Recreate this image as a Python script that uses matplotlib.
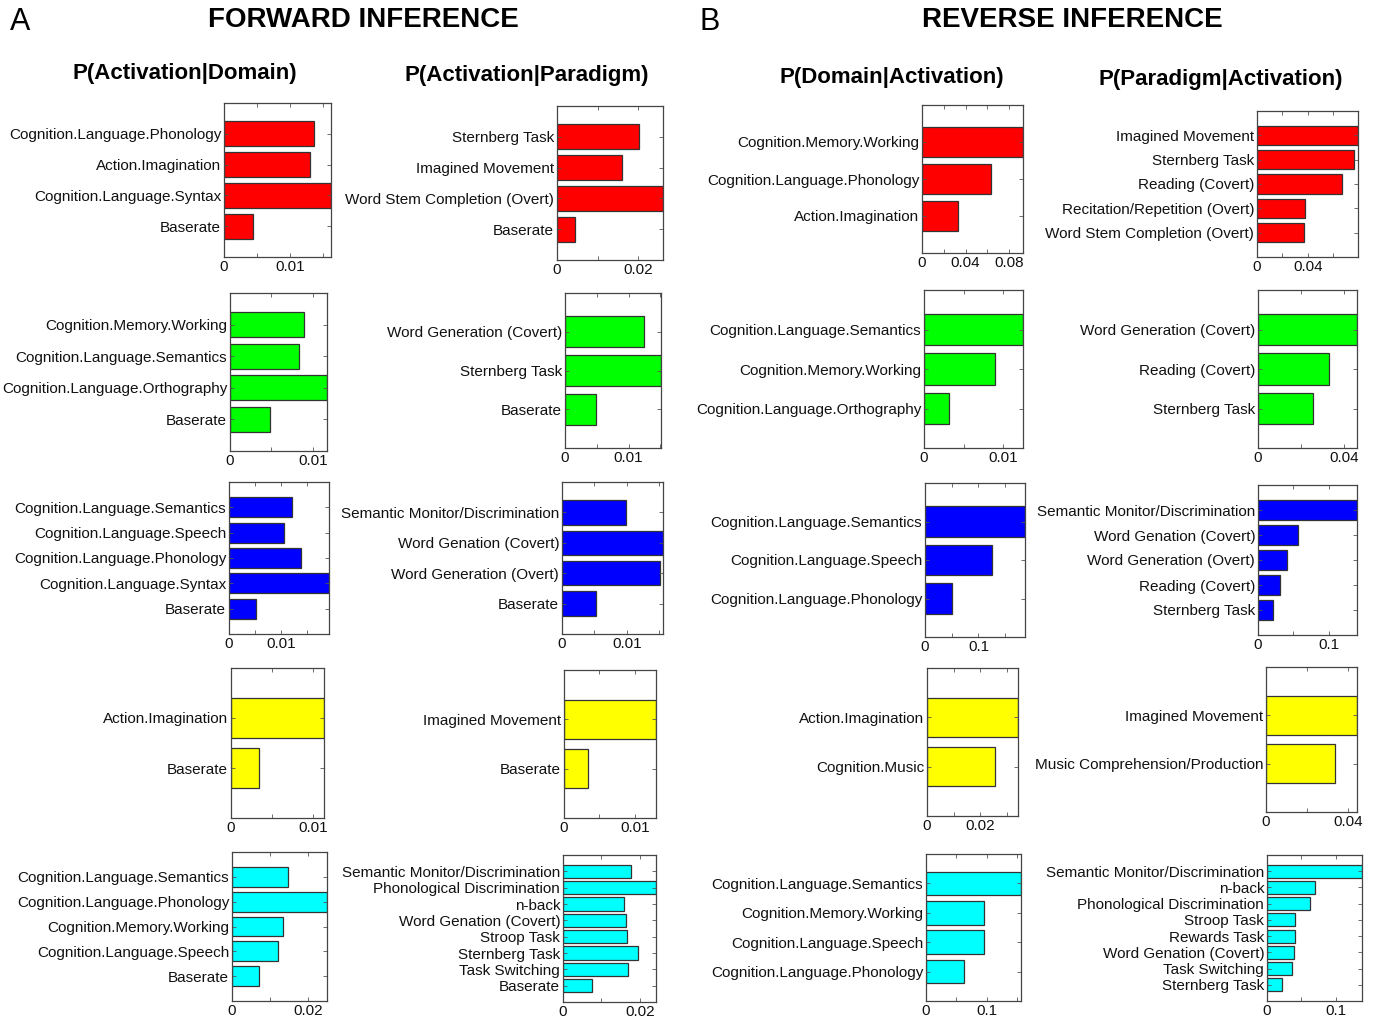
import numpy as np
import matplotlib.pyplot as plt
from matplotlib.ticker import MultipleLocator, FuncFormatter

plt.rcParams['font.family'] = ['Liberation Sans', 'DejaVu Sans']

W, H = 1376, 1019

# ---- forward inference: P(Activation|Domain)
fd1_labels = ['Cognition.Language.Phonology', 'Action.Imagination', 'Cognition.Language.Syntax', 'Baserate']
fd1_values = [0.0137, 0.0130, 0.0162, 0.0044]
fd2_labels = ['Cognition.Memory.Working', 'Cognition.Language.Semantics', 'Cognition.Language.Orthography', 'Baserate']
fd2_values = [0.0089, 0.0083, 0.0117, 0.0048]
fd3_labels = ['Cognition.Language.Semantics', 'Cognition.Language.Speech', 'Cognition.Language.Phonology',
              'Cognition.Language.Syntax', 'Baserate']
fd3_values = [0.0121, 0.0107, 0.0139, 0.0193, 0.0052]
fd4_labels = ['Action.Imagination', 'Baserate']
fd4_values = [0.0113, 0.0034]
fd5_labels = ['Cognition.Language.Semantics', 'Cognition.Language.Phonology', 'Cognition.Memory.Working',
              'Cognition.Language.Speech', 'Baserate']
fd5_values = [0.0148, 0.0250, 0.0133, 0.0120, 0.0070]

# ---- forward inference: P(Activation|Paradigm)
fp1_labels = ['Sternberg Task', 'Imagined Movement', 'Word Stem Completion (Overt)', 'Baserate']
fp1_values = [0.0202, 0.0161, 0.0261, 0.0045]
fp2_labels = ['Word Generation (Covert)', 'Sternberg Task', 'Baserate']
fp2_values = [0.0124, 0.0151, 0.0048]
fp3_labels = ['Semantic Monitor/Discrimination', 'Word Genation (Covert)', 'Word Generation (Overt)', 'Baserate']
fp3_values = [0.0099, 0.0156, 0.0152, 0.0052]
fp4_labels = ['Imagined Movement', 'Baserate']
fp4_values = [0.0130, 0.0034]
fp5_labels = ['Semantic Monitor/Discrimination', 'Phonological Discrimination', 'n-back', 'Word Genation (Covert)',
              'Stroop Task', 'Sternberg Task', 'Task Switching', 'Baserate']
fp5_values = [0.0176, 0.0242, 0.0159, 0.0163, 0.0167, 0.0194, 0.0169, 0.0075]

# ---- reverse inference: P(Domain|Activation)
rd1_labels = ['Cognition.Memory.Working', 'Cognition.Language.Phonology', 'Action.Imagination']
rd1_values = [0.0927, 0.0633, 0.0333]
rd2_labels = ['Cognition.Language.Semantics', 'Cognition.Memory.Working', 'Cognition.Language.Orthography']
rd2_values = [0.0125, 0.0090, 0.0031]
rd3_labels = ['Cognition.Language.Semantics', 'Cognition.Language.Speech', 'Cognition.Language.Phonology']
rd3_values = [0.187, 0.1245, 0.051]
rd4_labels = ['Action.Imagination', 'Cognition.Music']
rd4_values = [0.0343, 0.0257]
rd5_labels = ['Cognition.Language.Semantics', 'Cognition.Memory.Working', 'Cognition.Language.Speech',
              'Cognition.Language.Phonology']
rd5_values = [0.156, 0.0956, 0.0950, 0.0626]

# ---- reverse inference: P(Paradigm|Activation)
rp1_labels = ['Imagined Movement', 'Sternberg Task', 'Reading (Covert)', 'Recitation/Repetition (Overt)',
              'Word Stem Completion (Overt)']
rp1_values = [0.0797, 0.0764, 0.0668, 0.0379, 0.0372]
rp2_labels = ['Word Generation (Covert)', 'Reading (Covert)', 'Sternberg Task']
rp2_values = [0.0461, 0.0330, 0.0254]
rp3_labels = ['Semantic Monitor/Discrimination', 'Word Genation (Covert)', 'Word Generation (Overt)',
              'Reading (Covert)', 'Sternberg Task']
rp3_values = [0.140, 0.0567, 0.0413, 0.0309, 0.0216]
rp4_labels = ['Imagined Movement', 'Music Comprehension/Production']
rp4_values = [0.0444, 0.0337]
rp5_labels = ['Semantic Monitor/Discrimination', 'n-back', 'Phonological Discrimination', 'Stroop Task',
              'Rewards Task', 'Word Genation (Covert)', 'Task Switching', 'Sternberg Task']
rp5_values = [0.138, 0.0694, 0.0630, 0.0412, 0.0412, 0.0393, 0.0369, 0.0218]

row_colors = ['#ff0000', '#00ff00', '#0000ff', '#ffff00', '#00ffff']

# panel layout: (labels, values, row, box in pixels x0, y0, x1, y1, tick step)
panels = [
    (fd1_labels, fd1_values, 0, (224, 103, 331, 257), 0.01),
    (fp1_labels, fp1_values, 0, (557, 106, 663, 260), 0.02),
    (rd1_labels, rd1_values, 0, (922, 105, 1023, 253), 0.04),
    (rp1_labels, rp1_values, 0, (1257, 111, 1358, 257), 0.04),
    (fd2_labels, fd2_values, 1, (230, 293, 327, 451), 0.01),
    (fp2_labels, fp2_values, 1, (565, 293, 661, 448), 0.01),
    (rd2_labels, rd2_values, 1, (924, 290, 1023, 448), 0.01),
    (rp2_labels, rp2_values, 1, (1258, 290, 1357, 448), 0.04),
    (fd3_labels, fd3_values, 2, (229, 482, 329, 634), 0.01),
    (fp3_labels, fp3_values, 2, (562, 482, 663, 634), 0.01),
    (rd3_labels, rd3_values, 2, (925, 483, 1025, 637), 0.1),
    (rp3_labels, rp3_values, 2, (1258, 485, 1357, 635), 0.1),
    (fd4_labels, fd4_values, 3, (231, 668, 324, 818), 0.01),
    (fp4_labels, fp4_values, 3, (564, 670, 656, 818), 0.01),
    (rd4_labels, rd4_values, 3, (927, 668, 1018, 816), 0.02),
    (rp4_labels, rp4_values, 3, (1266, 667, 1357, 812), 0.04),
    (fd5_labels, fd5_values, 4, (232, 852, 327, 1001), 0.02),
    (fp5_labels, fp5_values, 4, (563, 855, 656, 1002), 0.02),
    (rd5_labels, rd5_values, 4, (926, 854, 1021, 1001), 0.1),
    (rp5_labels, rp5_values, 4, (1267, 855, 1362, 1001), 0.1),
]

fig = plt.figure(figsize=(W / 100, H / 100), dpi=100)

tick_fmt = FuncFormatter(lambda v, p: f'{round(v, 6):g}')

for labels, values, row, box, step in panels:
    x0, y0, x1, y1 = box
    ax = fig.add_axes([x0 / W, 1 - y1 / H, (x1 - x0) / W, (y1 - y0) / H])
    pos = np.arange(1, len(values) + 1)
    ax.barh(pos, values, height=0.8, color=row_colors[row], edgecolor='#333333', linewidth=0.9)
    ax.set_ylim(len(values) + 1, 0)
    ax.set_xlim(0, max(values))
    ax.set_yticks(pos)
    ax.set_yticklabels(labels)
    ax.xaxis.set_major_locator(MultipleLocator(step))
    ax.xaxis.set_minor_locator(MultipleLocator(step / 2))
    ax.xaxis.set_major_formatter(tick_fmt)
    ax.tick_params(which='both', direction='in', top=True, right=True, length=3,
                   width=0.6, color='#555555', labelsize=11, pad=2, labelcolor='#111111')
    for sp in ax.spines.values():
        sp.set_color('#444444')
        sp.set_linewidth(0.9)

# panel letters and headings
fig.text(20 / W, 1 - 22 / H, 'A', fontsize=22, ha='center', va='center')
fig.text(710 / W, 1 - 22 / H, 'B', fontsize=22, ha='center', va='center')
fig.text(363 / W, 1 - 20 / H, 'FORWARD INFERENCE', fontsize=20, fontweight='bold', ha='center', va='center')
fig.text(1072 / W, 1 - 20 / H, 'REVERSE INFERENCE', fontsize=20, fontweight='bold', ha='center', va='center')

col_titles = ['P(Activation|Domain)', 'P(Activation|Paradigm)', 'P(Domain|Activation)', 'P(Paradigm|Activation)']
col_title_xy = [(185, 73), (527, 76), (892, 78), (1221, 79)]
for t, (tx, ty) in zip(col_titles, col_title_xy):
    fig.text(tx / W, 1 - ty / H, t, fontsize=16, fontweight='bold', ha='center', va='center')

fig.savefig('out.png', dpi=100)
